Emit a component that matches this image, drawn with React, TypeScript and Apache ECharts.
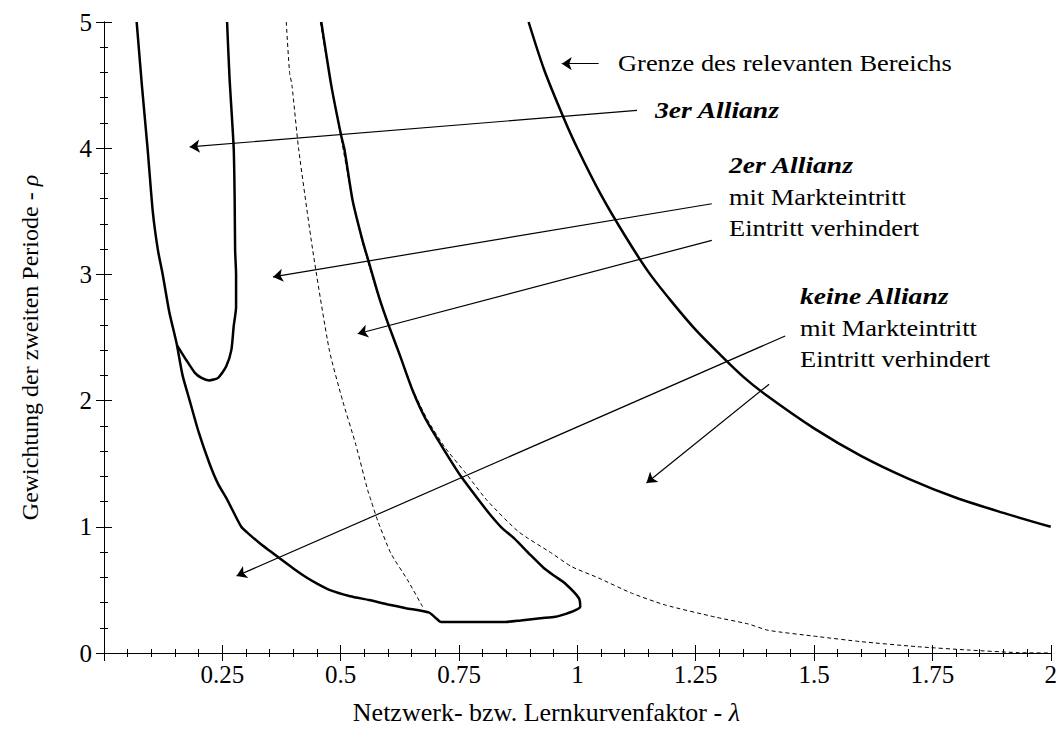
import React, { useEffect, useRef } from "react";
import * as echarts from "echarts";

// Outer region boundary (left branch, bottom, middle branch) – solid
const boundaryAB: [number, number][] = [
  [0.069, 5.0], [0.08, 4.5], [0.092, 4.0], [0.103, 3.5], [0.114, 3.19], [0.124, 3.0],
  [0.138, 2.7], [0.153, 2.46], [0.166, 2.2], [0.181, 2.0], [0.2, 1.75], [0.223, 1.5],
  [0.241, 1.34], [0.261, 1.21], [0.29, 1.0], [0.31, 0.93], [0.329, 0.87], [0.35, 0.81],
  [0.371, 0.75], [0.4, 0.67], [0.427, 0.6], [0.45, 0.55], [0.476, 0.5], [0.52, 0.45],
  [0.56, 0.42], [0.6, 0.385], [0.638, 0.355], [0.687, 0.32], [0.7, 0.28], [0.712, 0.246],
  [0.78, 0.246], [0.848, 0.246], [0.88, 0.258], [0.908, 0.27], [0.95, 0.285], [0.967, 0.3],
  [0.996, 0.34], [1.006, 0.367], [1.003, 0.436], [0.973, 0.555], [0.952, 0.61],
  [0.929, 0.674], [0.9, 0.78], [0.866, 0.91], [0.841, 0.99], [0.815, 1.1], [0.792, 1.21],
  [0.754, 1.4], [0.715, 1.63], [0.68, 1.85], [0.652, 2.08], [0.624, 2.37], [0.602, 2.59],
  [0.581, 2.82], [0.56, 3.09], [0.546, 3.27], [0.525, 3.59], [0.508, 3.99], [0.501, 4.1],
  [0.48, 4.5], [0.459, 5.0],
];

// "3er Allianz" loop – solid
const loop3er: [number, number][] = [
  [0.154, 2.44], [0.174, 2.32], [0.192, 2.22], [0.206, 2.18], [0.222, 2.16], [0.241, 2.18],
  [0.258, 2.27], [0.269, 2.4], [0.274, 2.59], [0.279, 2.74], [0.279, 3.0], [0.277, 3.19],
  [0.276, 3.6], [0.274, 4.0], [0.265, 4.57], [0.26, 5.0],
];

// Boundary of the relevant region – solid
const grenze: [number, number][] = [
  [0.897, 5.0], [0.93, 4.62], [0.97, 4.25], [1.0, 4.0], [1.05, 3.63], [1.1, 3.31],
  [1.15, 3.02], [1.2, 2.78], [1.25, 2.56], [1.3, 2.37], [1.35, 2.19], [1.4, 2.04],
  [1.5, 1.78], [1.6, 1.56], [1.7, 1.38], [1.8, 1.23], [1.9, 1.11], [2.0, 1.0],
];

// Left dashed curve
const dashedLeft: [number, number][] = [
  [0.385, 5.0], [0.392, 4.6], [0.397, 4.5], [0.411, 4.0], [0.441, 3.19], [0.476, 2.4],
  [0.504, 2.0], [0.532, 1.65], [0.557, 1.29], [0.564, 1.21], [0.578, 1.05], [0.606, 0.79],
  [0.641, 0.58], [0.673, 0.367],
];

// Right dashed curve
const dashedRight: [number, number][] = [
  [0.457, 5.0], [0.48, 4.5], [0.5, 4.1], [0.525, 3.59], [0.545, 3.27], [0.58, 2.82],
  [0.624, 2.37], [0.653, 2.08], [0.683, 1.85], [0.72, 1.63], [0.764, 1.426], [0.809, 1.21],
  [0.876, 0.96], [0.946, 0.79], [0.988, 0.684], [1.045, 0.594], [1.114, 0.475],
  [1.186, 0.38], [1.291, 0.285], [1.361, 0.23], [1.403, 0.18], [1.508, 0.13],
  [1.599, 0.09], [1.719, 0.05], [1.824, 0.024], [1.93, 0.003], [2.0, 0.0],
];

// Annotation arrows [tail, tip] in data coordinates
const arrows: [number, number][][] = [
  [[1.045, 4.67], [0.967, 4.67]],
  [[1.126, 4.3], [0.181, 4.01]],
  [[1.284, 3.56], [0.357, 2.98]],
  [[1.284, 3.27], [0.536, 2.53]],
  [[1.439, 2.512], [0.28, 0.61]],
  [[1.405, 2.13], [1.146, 1.347]],
];

const xTicks = ["0.25", "0.5", "0.75", "1", "1.25", "1.5", "1.75", "2"];

const FONT = "Liberation Serif";

export default function App() {
  const ref = useRef<HTMLDivElement>(null);
  useEffect(() => {
    if (!ref.current) return;
    const chart = echarts.init(ref.current, undefined, { renderer: "svg" });
    const axisCommon = {
      type: "value" as const,
      axisLine: { show: true, lineStyle: { color: "#000", width: 1 } },
      axisTick: { show: true, inside: true, length: 8, lineStyle: { color: "#000" } },
      minorTick: { show: true, splitNumber: 5, length: 4, lineStyle: { color: "#000" } },
      splitLine: { show: false },
      minorSplitLine: { show: false },
    };
    const solid = (data: [number, number][]) => ({
      type: "line",
      data,
      showSymbol: false,
      symbol: "none",
      smooth: 0.2,
      lineStyle: { color: "#000", width: 2.5 },
      z: 3,
    });
    const dashed = (data: [number, number][]) => ({
      type: "line",
      data,
      showSymbol: false,
      symbol: "none",
      smooth: 0.2,
      lineStyle: { color: "#000", width: 1, type: [4, 3] },
      z: 2,
    });
    const txt = (text: string, x: number, y: number, bold = false) => ({
      type: "text",
      x,
      y,
      scaleX: 1.15,
      style: {
        text,
        fill: "#000",
        fontFamily: FONT,
        fontSize: bold ? 24 : 23,
        fontWeight: bold ? "bold" : "normal",
        fontStyle: bold ? "italic" : "normal",
        verticalAlign: "middle",
        align: "left",
      },
    });
    chart.setOption({
      animation: false,
      backgroundColor: "#fff",
      grid: { left: 104, right: 7, top: 22, bottom: 87 },
      xAxis: [
        {
          ...axisCommon,
          position: "bottom",
          min: 0,
          max: 2,
          interval: 0.25,
          axisLabel: {
            color: "#000",
            fontFamily: FONT,
            fontSize: 25,
            margin: 9,
            formatter: (v: number) => {
              const s = String(v);
              return xTicks.includes(s) ? s : "";
            },
          },
          name: "{a|Netzwerk- bzw. Lernkurvenfaktor - }{b|λ}",
          nameLocation: "middle",
          nameGap: 46,
          nameTextStyle: {
            padding: [0, 62, 0, 0],
            rich: {
              a: { fontFamily: FONT, fontSize: 26, color: "#000" },
              b: { fontFamily: FONT, fontSize: 26, color: "#000", fontStyle: "italic" },
            },
          },
        },
        {
          ...axisCommon,
          position: "top",
          min: 0,
          max: 2,
          interval: 0.25,
          axisLabel: { show: false },
        },
      ],
      yAxis: [
        {
          ...axisCommon,
          position: "left",
          min: 0,
          max: 5,
          interval: 1,
          axisLabel: { color: "#000", fontFamily: FONT, fontSize: 25, margin: 12 },
          name: "{a|Gewichtung der zweiten Periode - }{b|ρ}",
          nameLocation: "middle",
          nameGap: 62,
          nameTextStyle: {
            padding: [0, 20, 0, 0],
            rich: {
              a: { fontFamily: FONT, fontSize: 24, color: "#000" },
              b: { fontFamily: FONT, fontSize: 24, color: "#000", fontStyle: "italic" },
            },
          },
        },
        {
          ...axisCommon,
          position: "right",
          min: 0,
          max: 5,
          interval: 1,
          axisLabel: { show: false },
        },
      ],
      series: [
        solid(boundaryAB),
        solid(loop3er),
        { ...solid(grenze), smooth: 0.3 },
        dashed(dashedLeft),
        dashed(dashedRight),
        {
          type: "lines",
          coordinateSystem: "cartesian2d",
          data: arrows.map((c) => ({ coords: c })),
          symbol: ["none", "arrow"],
          symbolSize: 10,
          lineStyle: { color: "#000", width: 1.2, opacity: 1 },
          z: 4,
        },
      ],
      graphic: [
        txt("Grenze des relevanten Bereichs", 618, 63),
        txt("3er Allianz", 655, 110, true),
        txt("2er Allianz", 729, 165, true),
        txt("mit Markteintritt", 729, 197),
        txt("Eintritt verhindert", 729, 228),
        txt("keine Allianz", 800, 296, true),
        txt("mit Markteintritt", 800, 328),
        txt("Eintritt verhindert", 800, 359),
      ],
    });
    return () => chart.dispose();
  }, []);
  return (
    <div
      ref={ref}
      style={{ position: "fixed", left: 0, top: 0, width: 1060, height: 740, background: "#fff" }}
    />
  );
}
